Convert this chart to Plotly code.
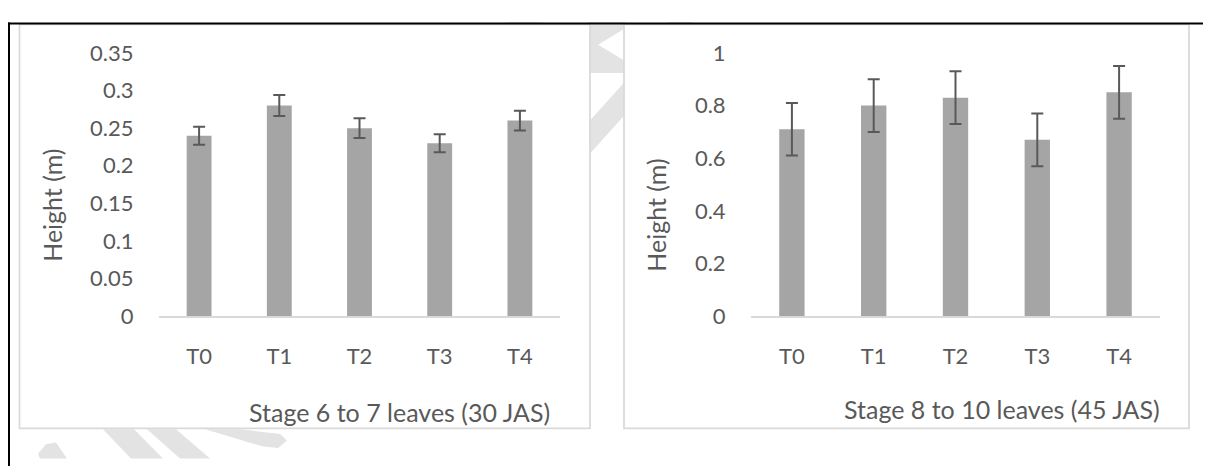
import plotly.graph_objects as go

# ---------------- data ----------------
categories = ["T0", "T1", "T2", "T3", "T4"]
height_30jas = [0.24, 0.28, 0.25, 0.23, 0.26]
error_30jas = [0.012, 0.014, 0.013, 0.012, 0.013]
height_45jas = [0.71, 0.80, 0.83, 0.67, 0.85]
error_45jas = [0.10, 0.10, 0.10, 0.10, 0.10]
yticks_30 = [0, 0.05, 0.1, 0.15, 0.2, 0.25, 0.3, 0.35]
yticks_45 = [0, 0.2, 0.4, 0.6, 0.8, 1]
ytitle = "Height (m)"
subtitle_30 = "Stage 6 to 7 leaves (30 JAS)"
subtitle_45 = "Stage 8 to 10 leaves (45 JAS)"

# ---------------- style ----------------
W, H = 1211, 471
OFF = 8  # page body margin
TXT = "#595959"
BAR = "#A5A5A5"
FONT = "Lato, Carlito, sans-serif"
FS_TICK = 22
FS_TITLE = 25


def px(x):
    return (x - OFF) / W


def py(y):
    return 1 - (y - OFF) / H


def path(points):
    return "M " + " L ".join(f"{px(x):.5f},{py(y):.5f}" for x, y in points) + " Z"


def fmt(v):
    return "%g" % v


fig = go.Figure()
fig.add_trace(go.Bar(
    x=categories, y=height_30jas, width=0.31, marker=dict(color=BAR, line=dict(width=0)),
    error_y=dict(type="data", array=error_30jas, color=TXT, thickness=2, width=6),
    xaxis="x", yaxis="y", showlegend=False, hoverinfo="skip"))
fig.add_trace(go.Bar(
    x=categories, y=height_45jas, width=0.31, marker=dict(color=BAR, line=dict(width=0)),
    error_y=dict(type="data", array=error_45jas, color=TXT, thickness=2, width=6),
    xaxis="x2", yaxis="y2", showlegend=False, hoverinfo="skip"))

ydom = [py(320.3), py(40.7)]
tickfont = dict(family=FONT, size=FS_TICK, color=TXT)
xcommon = dict(type="category", range=[-0.5, 4.5], showline=True, linecolor="#D9D9D9",
               linewidth=1.5, ticks="outside", ticklen=19, tickcolor="rgba(0,0,0,0)",
               showgrid=False, zeroline=False, tickfont=tickfont)
ycommon = dict(showline=False, showgrid=False, zeroline=False, ticks="outside", ticklen=20,
               tickcolor="rgba(0,0,0,0)", tickfont=tickfont, domain=ydom)

fig.update_layout(
    width=W, height=H, autosize=False,
    margin=dict(l=0, r=0, t=0, b=0),
    paper_bgcolor="white", plot_bgcolor="rgba(0,0,0,0)",
    font=dict(family=FONT, size=FS_TICK, color=TXT),
    xaxis=dict(domain=[px(159), px(560)], anchor="y", **xcommon),
    yaxis=dict(range=[0, 0.35], anchor="x", tickvals=yticks_30,
               ticktext=[fmt(v) for v in yticks_30], **ycommon),
    xaxis2=dict(domain=[px(751), px(1160)], anchor="y2", **xcommon),
    yaxis2=dict(range=[0, 1], anchor="x2", tickvals=yticks_45,
                ticktext=[fmt(v) for v in yticks_45], **ycommon),
)

# faint background watermark strokes (behind the chart panels)
WM = "#E3E3E3"
wm_polys = [
    [(38, 466), (46, 456), (56, 454), (67, 471), (40, 471)],
    [(103, 440), (134, 440), (163, 471), (131, 471)],
    [(147, 440), (176, 440), (210, 471), (180, 471)],
    [(205, 440), (240, 440), (280, 445), (287, 452), (278, 460), (262, 458)],
    [(505, 8), (540, 8), (565, 14), (530, 14)],
    [(588, 8), (626, 8), (626, 62), (588, 62)],
    [(588, 150), (588, 115), (626, 70), (626, 105)],
    [(668, 8), (692, 8), (690, 12), (672, 12)],
]
shapes = []
for poly in wm_polys:
    shapes.append(dict(type="path", xref="paper", yref="paper", path=path(poly),
                       fillcolor=WM, line=dict(width=0), layer="below"))
shapes.append(dict(type="path", xref="paper", yref="paper",
                   path=path([(598, 32), (626, 14), (626, 50)]),
                   fillcolor="white", line=dict(width=0), layer="below"))

# chart panels
for x0, x1 in [(19.5, 590), (624, 1189)]:
    shapes.append(dict(type="rect", xref="paper", yref="paper",
                       x0=px(x0), x1=px(x1), y0=py(439), y1=py(10.5),
                       fillcolor="white", line=dict(color="#D9D9D9", width=1.75),
                       layer="below"))

# table cell borders
shapes.append(dict(type="line", xref="paper", yref="paper", x0=0, x1=1,
                   y0=py(9.5), y1=py(9.5), line=dict(color="black", width=2), layer="above"))
shapes.append(dict(type="line", xref="paper", yref="paper", x0=px(9), x1=px(9),
                   y0=py(8.5), y1=0, line=dict(color="black", width=2), layer="above"))
fig.update_layout(shapes=shapes)

ann = [
    dict(text=ytitle, x=px(52), y=py(203), textangle=-90),
    dict(text=ytitle, x=px(656.5), y=py(213), textangle=-90),
    dict(text=subtitle_30, x=px(399.5), y=py(421.7)),
    dict(text=subtitle_45, x=px(1001.5), y=py(419)),
]
for a in ann:
    a.update(xref="paper", yref="paper", showarrow=False, xanchor="center", yanchor="middle",
             font=dict(family=FONT, size=FS_TITLE, color=TXT))
fig.update_layout(annotations=ann)

fig.write_html("out.html")
